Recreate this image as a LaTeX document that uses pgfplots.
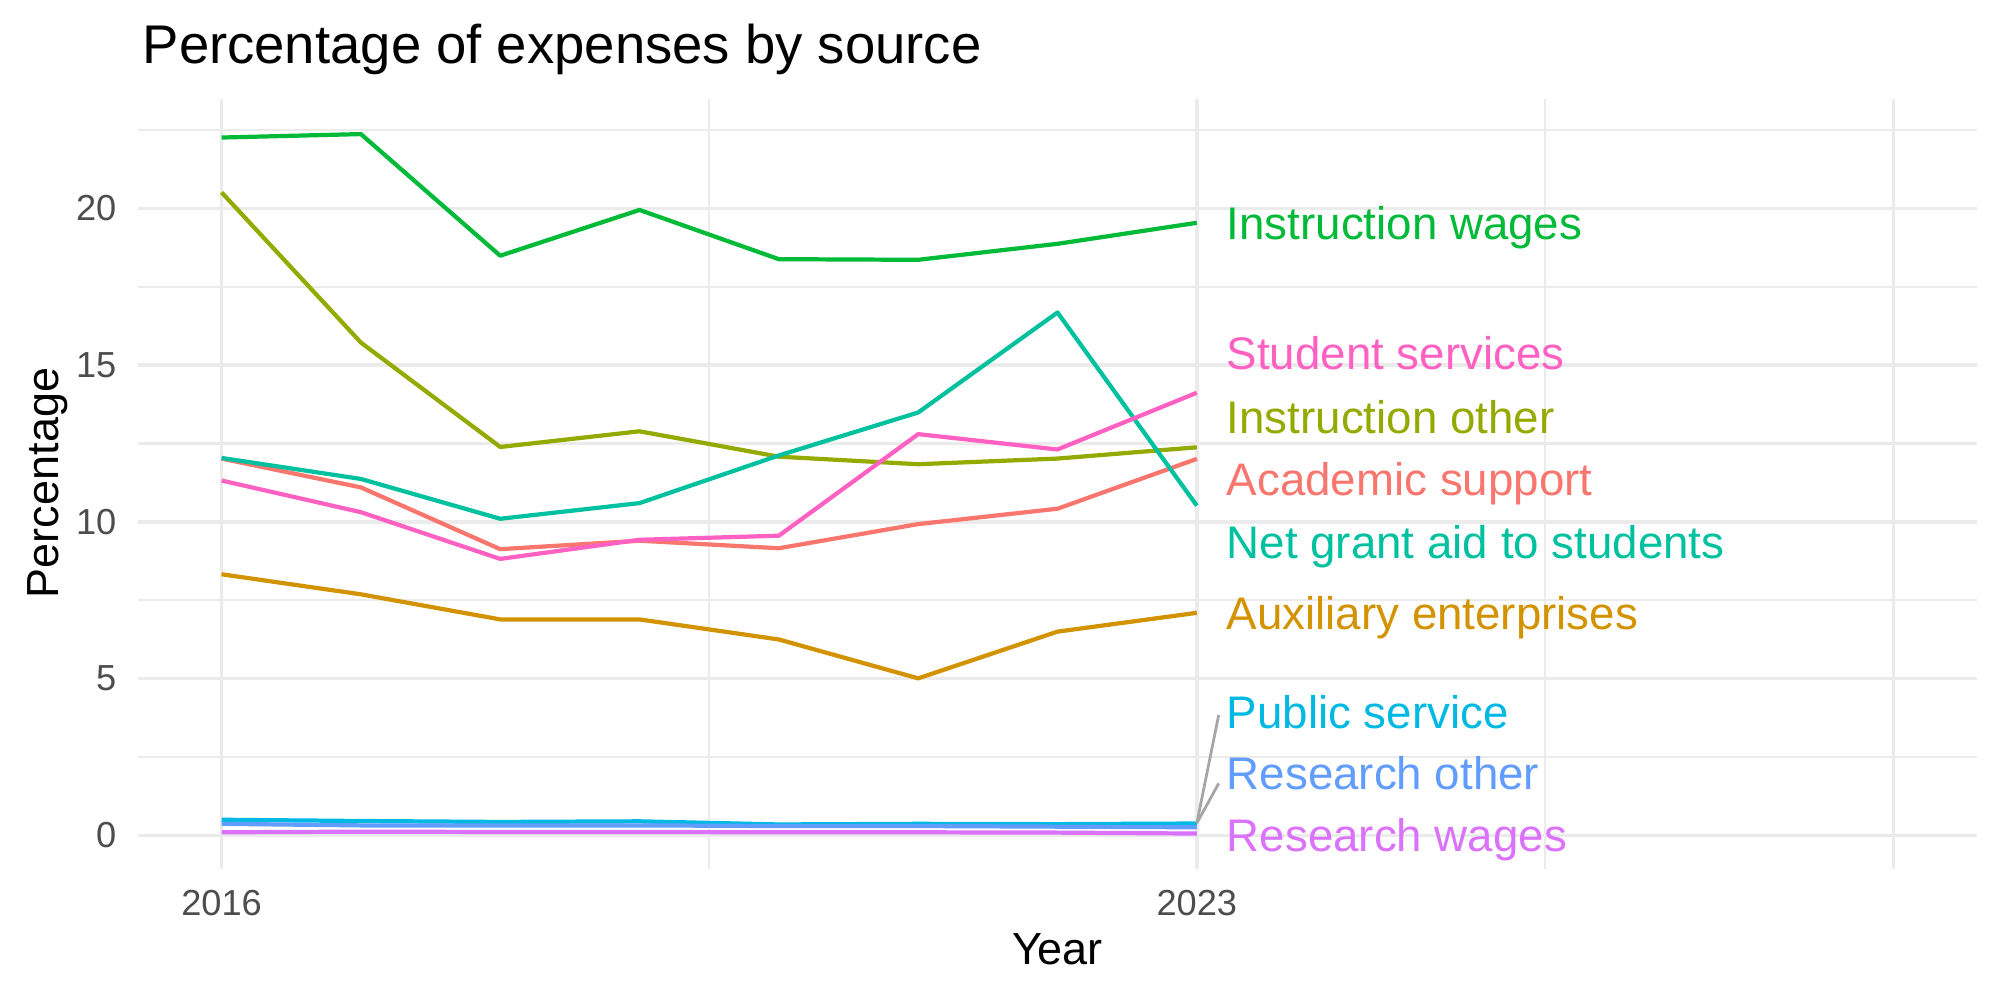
\documentclass[border=0pt]{standalone}
\usepackage{pgfplots}
\pgfplotsset{compat=1.18}
\usepackage{fontspec}
\setmainfont{Liberation Sans}
\definecolor{cAS}{HTML}{F8766D}
\definecolor{cAE}{HTML}{D39200}
\definecolor{cIO}{HTML}{93AA00}
\definecolor{cIW}{HTML}{00BA38}
\definecolor{cNG}{HTML}{00C19F}
\definecolor{cPS}{HTML}{00B9E3}
\definecolor{cRO}{HTML}{619CFF}
\definecolor{cRW}{HTML}{DB72FB}
\definecolor{cSS}{HTML}{FF61C3}
\definecolor{gridc}{HTML}{EBEBEB}
\definecolor{tickc}{HTML}{4D4D4D}
\definecolor{segc}{HTML}{A6A6A6}
\begin{document}
\begin{tikzpicture}
\path[use as bounding box] (0,0) rectangle (20cm,10cm);
\begin{axis}[
  at={(1.38cm,1.31cm)}, anchor=south west,
  scale only axis, width=18.39cm, height=7.70cm,
  xmin=2015.4, xmax=2028.6, ymin=-1.07, ymax=23.49,
  axis line style={draw=none},
  major tick length=0pt, minor tick length=0pt,
  xtick={2016,2023,2028}, xticklabels={2016,2023,{}},
  minor xtick={2019.5,2025.5},
  ytick={0,5,10,15,20}, yticklabels={0,5,10,15,20},
  minor ytick={2.5,7.5,12.5,17.5,22.5},
  grid=both,
  major grid style={draw=gridc, line width=1.0pt},
  minor grid style={draw=gridc, line width=0.6pt},
  xticklabel style={font=\fontsize{10.3}{12}\selectfont, text=tickc, inner sep=0pt, anchor=north, yshift=-0.21cm},
  yticklabel style={font=\fontsize{10.3}{12}\selectfont, text=tickc, inner sep=0pt, anchor=east, xshift=-0.21cm},
  clip=false,
  every axis plot/.append style={line width=1.2pt, no markers, line join=round},
]
\addplot[cAS] coordinates {(2016,12.02) (2017,11.10) (2018,9.13) (2019,9.40) (2020,9.16) (2021,9.93) (2022,10.42) (2023,12.01)};
\addplot[cAE] coordinates {(2016,8.33) (2017,7.69) (2018,6.89) (2019,6.89) (2020,6.25) (2021,5.01) (2022,6.50) (2023,7.10)};
\addplot[cIO] coordinates {(2016,20.51) (2017,15.72) (2018,12.39) (2019,12.89) (2020,12.08) (2021,11.84) (2022,12.02) (2023,12.38)};
\addplot[cIW] coordinates {(2016,22.26) (2017,22.37) (2018,18.49) (2019,19.95) (2020,18.38) (2021,18.36) (2022,18.87) (2023,19.54)};
\addplot[cNG] coordinates {(2016,12.04) (2017,11.37) (2018,10.10) (2019,10.60) (2020,12.12) (2021,13.49) (2022,16.68) (2023,10.52)};
\addplot[cPS] coordinates {(2016,0.50) (2017,0.46) (2018,0.43) (2019,0.45) (2020,0.35) (2021,0.37) (2022,0.36) (2023,0.38)};
\addplot[cRO] coordinates {(2016,0.37) (2017,0.32) (2018,0.32) (2019,0.32) (2020,0.30) (2021,0.30) (2022,0.28) (2023,0.26)};
\addplot[cRW] coordinates {(2016,0.10) (2017,0.12) (2018,0.11) (2019,0.11) (2020,0.10) (2021,0.10) (2022,0.09) (2023,0.06)};
\addplot[cSS] coordinates {(2016,11.32) (2017,10.31) (2018,8.82) (2019,9.43) (2020,9.56) (2021,12.80) (2022,12.31) (2023,14.12)};
% repel segments
\draw[segc, line width=0.8pt] (axis cs:2023,0.39) -- (axis cs:2023.157,3.84);
\draw[segc, line width=0.8pt] (axis cs:2023,0.39) -- (axis cs:2023.157,1.66);
% labels
\begin{scope}[every node/.style={anchor=base west, inner sep=0pt, font=\fontsize{13}{15}\selectfont}]
\node[text=cIW] at (axis cs:2023.21,19.01) {Instruction wages};
\node[text=cSS] at (axis cs:2023.21,14.86) {Student services};
\node[text=cIO] at (axis cs:2023.21,12.82) {Instruction other};
\node[text=cAS] at (axis cs:2023.21,10.85) {Academic support};
\node[text=cNG] at (axis cs:2023.21,8.84) {Net grant aid to students};
\node[text=cAE] at (axis cs:2023.21,6.58) {Auxiliary enterprises};
\node[text=cPS] at (axis cs:2023.21,3.42) {Public service};
\node[text=cRO] at (axis cs:2023.21,1.45) {Research other};
\node[text=cRW] at (axis cs:2023.21,-0.52) {Research wages};
\end{scope}
\end{axis}
\node[anchor=base west, inner sep=0pt, font=\fontsize{15.5}{18}\selectfont] at (1.42cm,9.36cm) {Percentage of expenses by source};
\node[anchor=base, inner sep=0pt, font=\fontsize{12.8}{15}\selectfont] at (10.575cm,0.35cm) {Year};
\node[anchor=base, inner sep=0pt, rotate=90, font=\fontsize{12.8}{15}\selectfont] at (0.58cm,5.17cm) {Percentage};
\end{tikzpicture}
\end{document}
